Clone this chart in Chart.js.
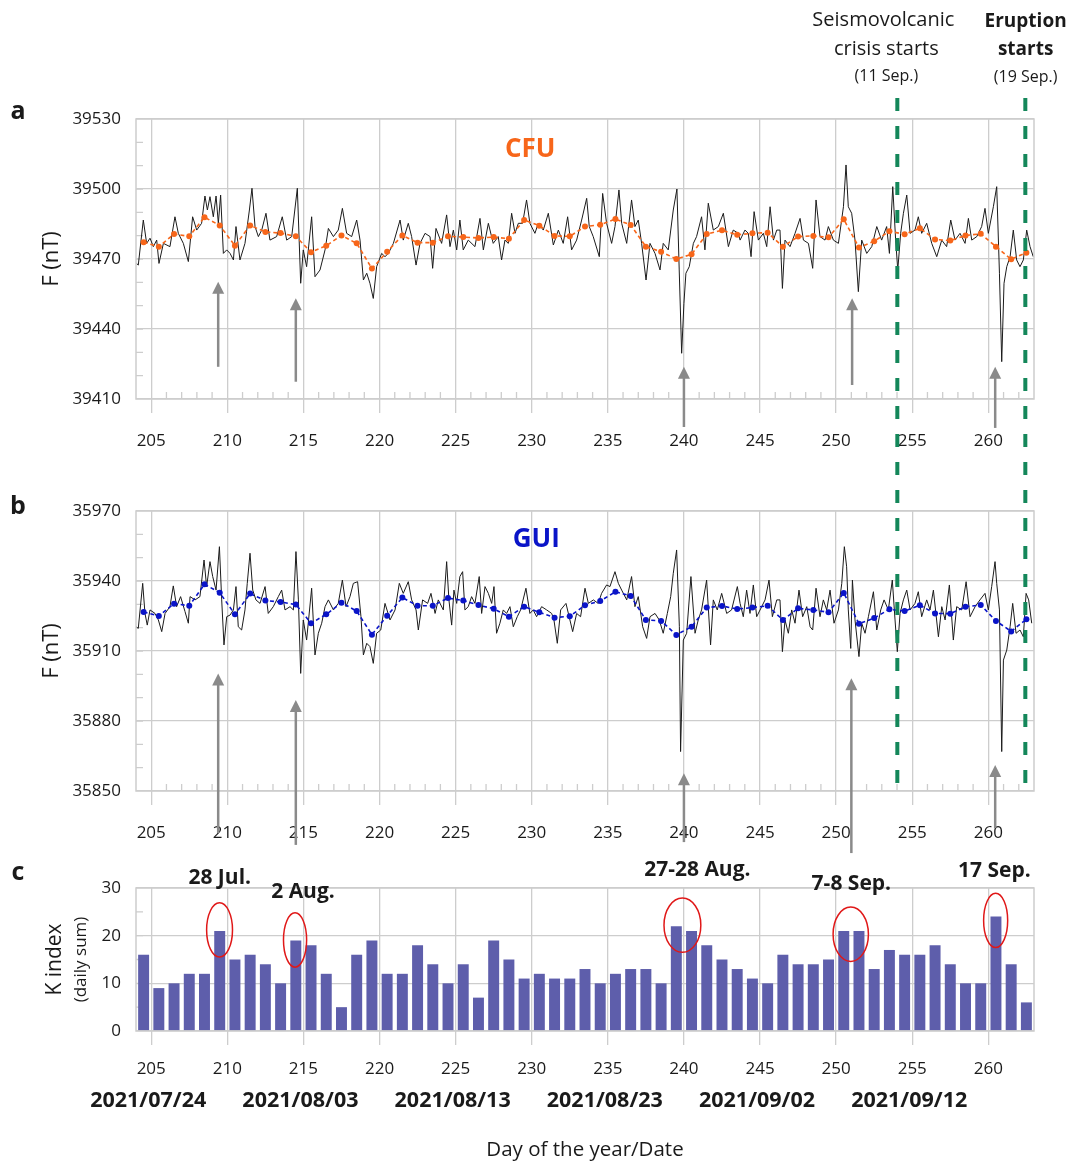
<!DOCTYPE html>
<html>
<head>
<meta charset="utf-8">
<script src="https://cdn.jsdelivr.net/npm/chart.js@4.4.1/dist/chart.umd.min.js"></script>
<style>
  body { margin: 0; background: #fff; }
  .panel { position: absolute; left: 0; }
</style>
</head>
<body>
<canvas id="chartA" class="panel" style="top:0" width="1069" height="455"></canvas>
<canvas id="chartB" class="panel" style="top:455px" width="1069" height="400"></canvas>
<canvas id="chartC" class="panel" style="top:855px" width="1069" height="308"></canvas>
<script>
// ===== DATA =====
const dayOfYear = [204, 205, 206, 207, 208, 209, 210, 211, 212, 213, 214, 215, 216, 217, 218, 219, 220,
  221, 222, 223, 224, 225, 226, 227, 228, 229, 230, 231, 232, 233, 234, 235, 236, 237, 238, 239, 240,
  241, 242, 243, 244, 245, 246, 247, 248, 249, 250, 251, 252, 253, 254, 255, 256, 257, 258, 259, 260,
  261, 262];
const majorDays = [205, 210, 215, 220, 225, 230, 235, 240, 245, 250, 255, 260];
const dateDays = [205, 215, 225, 235, 245, 255];
const dateLabels = ['2021/07/24', '2021/08/03', '2021/08/13', '2021/08/23', '2021/09/02', '2021/09/12'];

const cfuTicks = [39410, 39440, 39470, 39500, 39530];
const guiTicks = [35850, 35880, 35910, 35940, 35970];
const kTicks = [0, 10, 20, 30];

// daily means (nT)
const cfuMean = [39477.2, 39475.3, 39480.7, 39479.7, 39487.9, 39484.4, 39475.7, 39484.4, 39481.6, 39481.1,
  39479.7, 39472.9, 39475.7, 39480.1, 39476.7, 39465.9, 39473.1, 39480.1, 39477.0, 39477.0,
  39479.7, 39479.4, 39479.0, 39479.4, 39478.7, 39486.7, 39484.3, 39479.9, 39479.7, 39483.9,
  39484.7, 39487.1, 39484.6, 39475.3, 39473.1, 39470.0, 39472.0, 39480.7, 39482.3, 39480.4,
  39481.0, 39481.3, 39475.3, 39479.6, 39479.9, 39479.3, 39487.0, 39474.9, 39477.6, 39481.9,
  39480.6, 39483.2, 39478.4, 39477.9, 39480.1, 39480.8, 39475.3, 39469.9, 39472.7];
const guiMean = [35926.7, 35925.0, 35930.3, 35929.4, 35938.6, 35935.0, 35925.7, 35934.6, 35931.6, 35931.0,
  35929.9, 35921.9, 35925.7, 35930.7, 35927.1, 35917.0, 35925.1, 35932.9, 35929.4, 35929.4,
  35932.7, 35931.6, 35929.7, 35928.1, 35924.7, 35929.0, 35926.6, 35924.3, 35924.9, 35929.6,
  35931.4, 35935.4, 35933.6, 35923.3, 35922.9, 35916.9, 35920.4, 35928.6, 35929.3, 35928.0,
  35928.6, 35929.4, 35923.3, 35928.3, 35927.6, 35926.6, 35934.9, 35921.7, 35924.1, 35927.9,
  35927.1, 35929.6, 35926.1, 35926.0, 35929.0, 35929.7, 35922.9, 35918.4, 35923.6];
// K index daily sum
const kIndex = [16, 9, 10, 12, 12, 21, 15, 16, 14, 10, 19, 18, 12, 5, 16, 19, 12, 12, 18, 14, 10, 14, 7, 19, 15, 11,
  12, 11, 11, 13, 10, 12, 13, 13, 10, 22, 21, 18, 15, 13, 11, 10, 16, 14, 14, 15, 21, 21, 13, 17, 16, 16, 18, 14,
  10, 10, 24, 14, 6];

// high-resolution record, CFU
const cfuT = [204.04, 204.15, 204.48, 204.70, 204.92, 205.14, 205.36, 205.51, 205.80, 206.23, 206.56, 206.78,
  207.11, 207.44, 207.72, 207.99, 208.31, 208.53, 208.69, 208.86, 209.08, 209.26, 209.41, 209.56, 209.74,
  209.96, 210.18, 210.40, 210.57, 210.83, 211.16, 211.45, 211.62, 211.82, 212.04, 212.26, 212.54, 212.80,
  213.24, 213.61, 213.90, 214.23, 214.60, 214.82, 214.99, 215.21, 215.54, 215.76, 216.09, 216.42, 216.64,
  216.97, 217.29, 217.56, 217.84, 218.17, 218.50, 218.72, 218.94, 219.16, 219.37, 219.59, 219.81, 220.14,
  220.36, 220.58, 220.91, 221.35, 221.56, 221.89, 222.11, 222.40, 222.66, 222.99, 223.32, 223.49, 223.71,
  224.08, 224.41, 224.63, 224.85, 225.07, 225.28, 225.50, 225.83, 226.27, 226.60, 226.82, 227.15, 227.47,
  227.80, 228.02, 228.24, 228.46, 228.68, 228.90, 229.12, 229.40, 229.66, 229.88, 230.21, 230.43, 230.76,
  231.09, 231.42, 231.75, 232.07, 232.36, 232.62, 232.95, 233.28, 233.61, 233.78, 234.04, 234.44, 234.66,
  234.92, 235.25, 235.47, 235.73, 235.91, 236.24, 236.56, 236.78, 237.00, 237.22, 237.51, 237.77, 238.10,
  238.43, 238.64, 238.97, 239.30, 239.54, 239.69, 239.85, 240.00, 240.13, 240.35, 240.62, 240.83, 241.16,
  241.38, 241.60, 241.93, 242.26, 242.59, 242.92, 243.24, 243.57,
  243.69, 244.01, 244.23, 244.41, 244.61, 244.89, 245.22, 245.44, 245.66, 245.88, 246.10, 246.31, 246.47,
  246.64, 246.97, 247.30, 247.63, 247.85, 248.18, 248.46, 248.68, 248.94, 249.27, 249.49, 249.82, 250.15,
  250.48, 250.65, 250.80, 251.02, 251.24, 251.46, 251.68, 252.01, 252.34, 252.67, 252.99, 253.32, 253.50,
  253.72, 253.91, 254.05, 254.24, 254.42, 254.64, 254.86, 255.18, 255.40, 255.62, 255.95, 256.28, 256.61,
  256.94, 257.26, 257.53, 257.81, 258.14, 258.47, 258.69, 258.91, 259.24, 259.56, 259.78, 260.00, 260.33,
  260.55, 260.73, 260.88, 261.03, 261.21, 261.43, 261.64, 261.86, 262.08, 262.30, 262.52, 262.74, 262.95];
const cfuF = [39468.1, 39467.4, 39486.7, 39476.7, 39478.9, 39475.3, 39478.1, 39468.1, 39476.7, 39475.3, 39488.1, 39481.0,
  39476.7, 39468.9, 39488.1, 39482.4, 39485.3, 39497.0, 39491.0, 39496.7, 39488.1, 39497.0, 39485.3, 39497.4, 39472.4,
  39473.9, 39472.4, 39469.6, 39483.9, 39469.6, 39476.7, 39491.0, 39500.3, 39483.9, 39479.6, 39482.4, 39489.6, 39478.1,
  39479.6, 39488.1, 39478.1, 39479.6, 39500.3, 39459.6, 39473.9, 39466.7, 39488.1, 39462.4, 39465.3, 39473.9, 39483.1,
  39479.6, 39482.4, 39491.7, 39481.0, 39479.6, 39486.7, 39478.1, 39461.0, 39463.9, 39459.6, 39453.1, 39466.7, 39472.4,
  39471.0, 39472.4, 39476.7, 39486.7, 39478.1, 39485.3, 39479.6, 39467.4, 39476.7, 39481.0, 39479.6, 39466.0, 39483.1,
  39476.7, 39488.9, 39475.3, 39482.4, 39473.9, 39486.7, 39473.9, 39478.1, 39475.3, 39487.4, 39473.9, 39485.3, 39476.7,
  39479.6, 39469.6, 39478.1, 39476.7, 39489.6, 39481.0, 39485.3, 39485.3, 39495.3, 39485.3, 39481.0, 39485.3, 39482.4,
  39489.6, 39476.0, 39482.4, 39476.7, 39488.1, 39473.9, 39478.1, 39486.7, 39496.0, 39483.9, 39479.6, 39471.0, 39498.1,
  39485.3, 39476.7, 39483.9, 39499.6, 39485.3, 39476.7, 39495.3, 39483.9, 39486.7, 39476.7, 39461.0, 39476.7, 39472.4,
  39465.3, 39476.7, 39473.9, 39491.0, 39500.0, 39465.3, 39429.6, 39451.0, 39463.9, 39466.7, 39476.7, 39479.6, 39488.1,
  39473.9, 39493.9, 39482.4, 39483.9, 39489.6, 39475.3, 39482.4, 39481.0,
  39478.1, 39482.4, 39481.0, 39471.0, 39490.3, 39478.1, 39481.0, 39475.3, 39492.4, 39478.1, 39482.4, 39482.4, 39457.4,
  39478.1, 39475.3, 39481.0, 39487.4, 39478.1, 39476.7, 39466.0, 39495.3, 39479.6, 39478.1, 39483.9, 39478.1, 39476.7,
  39492.4, 39510.3, 39492.4, 39489.6, 39478.1, 39456.0, 39478.1, 39472.4, 39475.3, 39483.9, 39478.1, 39483.9, 39472.4,
  39501.0, 39478.1, 39465.3, 39481.0, 39489.6, 39497.4, 39481.0, 39482.4, 39488.1, 39481.0, 39485.3, 39476.7, 39471.0,
  39478.1, 39475.3, 39486.7, 39478.1, 39481.0, 39476.7, 39487.4, 39478.1, 39479.6, 39483.9, 39491.7, 39481.0, 39492.4,
  39501.0, 39463.9, 39426.0, 39459.6, 39466.7, 39471.0, 39482.4, 39469.6, 39466.7, 39469.6, 39482.4, 39475.3, 39471.0];

// high-resolution record, GUI
const guiT = [204.00, 204.15, 204.44, 204.59, 204.74, 204.92, 205.25, 205.47, 205.69, 205.91, 206.23, 206.45,
  206.67, 206.93, 207.22, 207.44, 207.55, 207.88, 208.20, 208.47, 208.64, 208.86, 209.04, 209.26, 209.48,
  209.63, 209.78, 209.96, 210.18, 210.40, 210.57, 210.72, 210.94, 211.16, 211.31, 211.49, 211.67, 211.88,
  212.15, 212.48, 212.69, 213.02, 213.35, 213.57, 213.79, 214.12, 214.34, 214.51, 214.67, 214.82, 214.99,
  215.21, 215.54, 215.76, 215.98, 216.20, 216.42, 216.64, 216.97, 217.29, 217.56, 217.80, 218.06, 218.28,
  218.56, 218.78, 218.94, 219.16, 219.37, 219.59, 219.81, 220.08, 220.36, 220.69, 221.02, 221.30, 221.56,
  221.89, 222.11, 222.40, 222.55, 222.83, 223.16, 223.38, 223.65, 223.86,
  224.19, 224.41, 224.56, 224.74, 224.89, 225.07, 225.28, 225.46, 225.61, 225.83, 226.05, 226.27, 226.55,
  226.71, 226.93, 227.15, 227.37, 227.52, 227.69, 227.91, 228.13, 228.35, 228.57, 228.79, 229.05, 229.27,
  229.62, 229.88, 230.10, 230.32, 230.65, 230.98, 231.31, 231.46, 231.68, 231.90, 232.25, 232.51, 232.69,
  232.95, 233.21, 233.50, 233.72, 234.05, 234.37, 234.59, 234.92, 235.14, 235.47, 235.69, 235.91, 236.24,
  236.56, 236.78, 237.00, 237.29, 237.55, 237.77, 238.10, 238.38, 238.64, 238.91, 239.13, 239.30, 239.52,
  239.70, 239.78, 239.96, 240.18, 240.46, 240.73, 240.94, 241.16, 241.49, 241.75, 241.93, 242.19, 242.48,
  242.81, 243.13, 243.51,
  243.69, 243.90, 244.12, 244.34, 244.56, 244.78, 245.11, 245.33, 245.59, 245.81, 246.10, 246.31, 246.47,
  246.64, 246.86, 247.08, 247.30, 247.56, 247.80, 248.07, 248.29, 248.46, 248.68, 248.94, 249.16, 249.38,
  249.60, 249.86, 250.15, 250.37, 250.54, 250.69, 250.80, 250.96, 251.07, 251.24, 251.50, 251.68, 251.90,
  252.12, 252.45, 252.67, 252.93, 253.15, 253.43, 253.69, 253.87, 254.02, 254.20, 254.42, 254.64, 254.86,
  255.18, 255.40, 255.62, 255.95, 256.17, 256.39, 256.72, 256.94, 257.16, 257.44, 257.70, 257.92, 258.25,
  258.54, 258.80, 259.13, 259.45, 259.78, 260.00, 260.22, 260.44, 260.55, 260.73, 260.88, 260.99, 261.21,
  261.43, 261.60, 261.82, 262.08, 262.30, 262.48, 262.65, 262.85];
const guiF = [35920.4, 35919.7, 35939.0, 35926.1, 35921.1, 35927.6, 35926.1, 35923.3, 35918.3, 35926.1, 35929.0, 35937.9,
  35929.0, 35933.3, 35926.9, 35921.9, 35933.3, 35931.9, 35933.3, 35949.0, 35937.6, 35948.3, 35941.9, 35936.1, 35954.7,
  35931.9, 35912.6, 35924.7, 35925.4, 35927.6, 35937.6, 35920.4, 35919.0, 35927.6, 35939.0, 35951.9, 35936.1, 35931.9,
  35930.4, 35937.6, 35926.1, 35929.0, 35933.3, 35936.1, 35927.6, 35929.0, 35927.6, 35952.6, 35931.9, 35900.4, 35923.3,
  35914.7, 35936.9, 35908.3, 35917.6, 35921.9, 35929.0, 35931.9, 35927.6, 35930.4, 35940.4, 35929.0, 35933.3, 35939.0,
  35939.7, 35924.7, 35908.3, 35913.3, 35911.9, 35904.7, 35917.6, 35919.0, 35930.4, 35923.3, 35927.6, 35939.0, 35934.7,
  35939.7, 35931.9, 35927.6, 35919.0, 35931.9, 35930.4, 35934.7, 35926.1, 35931.9,
  35927.6, 35948.3, 35931.9, 35921.1, 35936.1, 35930.4, 35941.9, 35944.0, 35927.6, 35929.0, 35933.3, 35930.4, 35941.9,
  35926.1, 35937.6, 35934.7, 35930.4, 35937.6, 35917.6, 35921.9, 35927.6, 35926.1, 35929.0, 35920.4, 35924.7, 35927.6,
  35936.9, 35926.1, 35927.6, 35924.7, 35929.0, 35927.6, 35926.1, 35923.3, 35913.3, 35927.6, 35930.4, 35923.3, 35918.3,
  35926.1, 35924.7, 35936.9, 35930.4, 35931.9, 35930.4, 35934.7, 35938.3, 35937.6, 35944.0, 35939.0, 35936.1, 35931.9,
  35941.9, 35929.0, 35933.3, 35920.4, 35915.4, 35924.7, 35926.1, 35923.3, 35917.6, 35926.1, 35933.3, 35943.3, 35953.3,
  35920.4, 35866.9, 35914.7, 35917.6, 35941.9, 35917.6, 35923.3, 35927.6, 35940.4, 35912.6, 35931.9, 35927.6, 35934.7,
  35926.1, 35927.6, 35937.6,
  35930.4, 35924.7, 35936.1, 35926.1, 35938.3, 35924.7, 35929.0, 35931.9, 35940.4, 35924.7, 35931.9, 35931.9, 35909.7,
  35923.3, 35917.6, 35927.6, 35921.9, 35936.1, 35924.7, 35929.0, 35920.4, 35919.0, 35936.9, 35924.7, 35931.9, 35927.6,
  35936.1, 35921.9, 35927.6, 35939.0, 35954.7, 35946.1, 35927.6, 35911.1, 35940.4, 35923.3, 35907.6, 35921.9, 35917.6,
  35924.7, 35935.4, 35919.0, 35927.6, 35931.9, 35927.6, 35940.4, 35923.3, 35909.7, 35926.1, 35931.9, 35936.1, 35927.6,
  35930.4, 35935.4, 35924.7, 35931.9, 35927.6, 35936.1, 35916.1, 35929.0, 35923.3, 35938.3, 35914.7, 35929.0, 35927.6,
  35939.7, 35924.7, 35929.0, 35931.9, 35934.7, 35927.6, 35937.6, 35948.3, 35939.0, 35927.6, 35866.9, 35906.1, 35910.4,
  35920.4, 35930.4, 35917.6, 35919.0, 35916.1, 35934.7, 35931.9, 35921.9];

// annotations: [day, top value, bottom value]
const cfuArrows = [[209.4, 39460.3, 39423.8], [214.5, 39453.2, 39417.4], [240.0, 39423.8, 39398.0],
  [251.05, 39453.2, 39416.0], [260.45, 39423.8, 39397.6]];
const guiArrows = [[209.4, 35900.4, 35832.0], [214.5, 35889.0, 35826.9], [240.0, 35857.6, 35828.1],
  [251.0, 35898.3, 35823.4], [260.45, 35861.1, 35834.1]];
const eventDays = [254.02, 262.43];
// highlighted K days: [centre day, centre K, half width (days), half height (K), label, label day, label K]
const kEvents = [
  [209.49, 21.2, 0.85, 5.7, '28 Jul.', 209.5, 32.1],
  [214.45, 19.1, 0.76, 5.7, '2 Aug.', 214.97, 29.2],
  [239.9, 22.2, 1.21, 5.7, '27-28 Aug.', 240.88, 33.8],
  [250.96, 20.3, 1.16, 5.7, '7-8 Sep.', 251.0, 30.8],
  [260.48, 23.2, 0.79, 5.7, '17 Sep.', 260.4, 33.6]
];

// ===== STYLE =====
const GRID = '#cdcdcd';
const TXT = '#1a1a1a';
const FONT = "'Open Sans', sans-serif";
Chart.defaults.font.family = FONT;
Chart.defaults.color = TXT;

function txt(ctx, s, x, y, size, weight, color, rot) {
  ctx.save();
  ctx.font = (weight || 'normal') + ' ' + size + 'px ' + FONT;
  ctx.fillStyle = color || TXT;
  ctx.textAlign = 'center';
  ctx.textBaseline = 'middle';
  ctx.translate(x, y);
  if (rot) ctx.rotate(rot);
  ctx.fillText(s, 0, 0);
  ctx.restore();
}

function arrow(ctx, x, yTop, yBot) {
  ctx.save();
  ctx.strokeStyle = '#8a8a8a';
  ctx.fillStyle = '#8a8a8a';
  ctx.lineWidth = 2.5;
  ctx.beginPath();
  ctx.moveTo(x, yTop + 10);
  ctx.lineTo(x, yBot);
  ctx.stroke();
  ctx.beginPath();
  ctx.moveTo(x, yTop);
  ctx.lineTo(x - 6, yTop + 12);
  ctx.lineTo(x + 6, yTop + 12);
  ctx.closePath();
  ctx.fill();
  ctx.restore();
}

// frame, minor ticks, arrows, labels
const decor = {
  id: 'decor',
  beforeDatasetsDraw(chart, args, o) {
    const { ctx, chartArea: a, scales: { x, y } } = chart;
    ctx.save();
    ctx.strokeStyle = GRID;
    ctx.lineWidth = 1.3;
    ctx.beginPath();
    if (o.minorX) {
      for (let d = 205; d < 263; d++) {
        if (d % 5 === 0) continue;
        const px = x.getPixelForValue(d);
        ctx.moveTo(px, a.bottom);
        ctx.lineTo(px, a.bottom - 7);
      }
    }
    for (let v = y.min + o.minorY; v < y.max; v += o.minorY) {
      const py = y.getPixelForValue(v);
      ctx.moveTo(a.left, py);
      ctx.lineTo(a.left + 7, py);
    }
    ctx.stroke();
    ctx.restore();
  },
  afterDatasetsDraw(chart, args, o) {
    const { ctx, chartArea: a, scales: { x, y } } = chart;
    ctx.save();
    ctx.strokeStyle = GRID;
    ctx.lineWidth = 1.5;
    ctx.strokeRect(a.left, a.top, a.right - a.left, a.bottom - a.top);
    ctx.restore();

    (o.arrows || []).forEach(r => arrow(ctx, x.getPixelForValue(r[0]), y.getPixelForValue(r[1]), y.getPixelForValue(r[2])));

    if (o.events) {
      ctx.save();
      ctx.strokeStyle = '#14875a';
      ctx.lineWidth = 4;
      ctx.setLineDash([13, 15]);
      ctx.lineDashOffset = o.events.dashOffset;
      eventDays.forEach(d => {
        const px = x.getPixelForValue(d);
        ctx.beginPath();
        ctx.moveTo(px, o.events.from === 'top' ? 0 : y.getPixelForValue(o.events.from));
        ctx.lineTo(px, o.events.to === 'bottom' ? chart.height : y.getPixelForValue(o.events.to));
        ctx.stroke();
      });
      ctx.restore();
    }

    if (o.station) {
      txt(ctx, o.station.text, x.getPixelForValue(o.station.day), y.getPixelForValue(o.station.val), 26, 'bold', o.station.color);
    }

    (o.ellipses || []).forEach(e => {
      const cx = x.getPixelForValue(e[0]);
      const cy = y.getPixelForValue(e[1]);
      const rx = x.getPixelForValue(e[0] + e[2]) - cx;
      const ry = y.getPixelForValue(e[1] - e[3]) - cy;
      ctx.save();
      ctx.strokeStyle = '#e01818';
      ctx.lineWidth = 1.5;
      ctx.beginPath();
      ctx.ellipse(cx, cy, rx, ry, 0, 0, Math.PI * 2);
      ctx.stroke();
      ctx.restore();
      txt(ctx, e[4], x.getPixelForValue(e[5]), y.getPixelForValue(e[6]), 21, 'bold');
    });

    // panel letter and y title
    txt(ctx, o.letter, 18, o.letterY, 25, 'bold');
    const midY = (a.top + a.bottom) / 2;
    if (o.yTitle2) {
      txt(ctx, o.yTitle, 55, midY, 21, 'normal', TXT, -Math.PI / 2);
      txt(ctx, o.yTitle2, 81, midY, 17, 'normal', TXT, -Math.PI / 2);
    } else {
      txt(ctx, o.yTitle, 52, midY, 22, 'normal', TXT, -Math.PI / 2);
    }

    if (o.top) {
      const d1 = x.getPixelForValue(253.3);
      const d2 = x.getPixelForValue(262.45);
      txt(ctx, 'Seismovolcanic', d1 - 3, a.top - 99, 20);
      txt(ctx, 'crisis starts', d1, a.top - 70, 20);
      txt(ctx, '(11 Sep.)', d1, a.top - 43, 16);
      txt(ctx, 'Eruption', d2, a.top - 97, 19, 'bold');
      txt(ctx, 'starts', d2, a.top - 69, 19, 'bold');
      txt(ctx, '(19 Sep.)', d2, a.top - 42, 16);
    }

    if (o.dates) {
      dateDays.forEach((d, i) => txt(ctx, dateLabels[i], x.getPixelForValue(d) - 3, a.bottom + 70, 21.5, 'bold'));
      txt(ctx, 'Day of the year/Date', (a.left + a.right) / 2, a.bottom + 119, 20.5);
    }
  }
};

function xScale(pad, h) {
  return {
    type: 'linear',
    min: 204,
    max: 263,
    offset: false,
    afterBuildTicks: s => { s.ticks = majorDays.map(v => ({ value: v })); },
    afterFit: s => { s.height = h; },
    grid: { color: GRID, lineWidth: 1.3, tickLength: 14, tickColor: GRID, offset: false },
    border: { display: false },
    ticks: { autoSkip: false, maxRotation: 0, padding: pad, font: { size: 17 }, color: TXT, callback: v => String(v) }
  };
}

function yScale(ticks) {
  return {
    min: ticks[0],
    max: ticks[ticks.length - 1],
    afterBuildTicks: s => { s.ticks = ticks.map(v => ({ value: v })); },
    afterFit: s => { s.width = 136; },
    grid: { color: GRID, lineWidth: 1.3, drawTicks: false },
    border: { display: false },
    ticks: { padding: 15, font: { size: 17 }, color: TXT, callback: v => String(v) }
  };
}

function meanSet(vals, color) {
  return {
    data: dayOfYear.map((d, i) => ({ x: d + 0.5, y: vals[i] })),
    borderColor: color,
    backgroundColor: color,
    borderWidth: 1.6,
    borderDash: [4, 3],
    pointRadius: 3,
    pointBorderWidth: 0,
    pointBackgroundColor: color,
    order: 0
  };
}

function rawSet(t, f) {
  return {
    data: t.map((d, i) => ({ x: d, y: f[i] })),
    borderColor: '#1b1b1b',
    borderWidth: 1,
    pointRadius: 0,
    order: 1
  };
}

const common = {
  responsive: false,
  animation: false,
  events: [],
  plugins: { legend: { display: false }, tooltip: { enabled: false } }
};

// ===== PANEL a : CFU =====
new Chart(document.getElementById('chartA'), {
  type: 'line',
  data: { datasets: [meanSet(cfuMean, '#f7661a'), rawSet(cfuT, cfuF)] },
  options: {
    ...common,
    layout: { padding: { top: 119, right: 35, left: 0, bottom: 0 } },
    scales: { x: xScale(18, 56), y: yScale(cfuTicks) },
    plugins: {
      ...common.plugins,
      decor: {
        minorX: true, minorY: 10, arrows: cfuArrows, letter: 'a', letterY: 112, yTitle: 'F (nT)',
        events: { from: 39539, to: 'bottom', dashOffset: 0 },
        station: { text: 'CFU', day: 229.9, val: 39516.7, color: '#f7661a' },
        top: true
      }
    }
  },
  plugins: [decor]
});

// ===== PANEL b : GUI =====
new Chart(document.getElementById('chartB'), {
  type: 'line',
  data: { datasets: [meanSet(guiMean, '#0a14c8'), rawSet(guiT, guiF)] },
  options: {
    ...common,
    layout: { padding: { top: 56, right: 35, left: 0, bottom: 0 } },
    scales: { x: xScale(18, 64), y: yScale(guiTicks) },
    plugins: {
      ...common.plugins,
      decor: {
        minorX: true, minorY: 10, arrows: guiArrows, letter: 'b', letterY: 52, yTitle: 'F (nT)',
        events: { from: 'top', to: 35852, dashOffset: 21 },
        station: { text: 'GUI', day: 230.3, val: 35957.6, color: '#0a14c8' }
      }
    }
  },
  plugins: [decor]
});

// ===== PANEL c : K index =====
new Chart(document.getElementById('chartC'), {
  type: 'bar',
  data: {
    datasets: [{
      data: dayOfYear.map((d, i) => ({ x: d + 0.5, y: kIndex[i] })),
      backgroundColor: '#5e5eab',
      borderWidth: 0,
      categoryPercentage: 1,
      barPercentage: 0.72
    }]
  },
  options: {
    ...common,
    layout: { padding: { top: 33, right: 35, left: 0, bottom: 0 } },
    scales: { x: xScale(14, 132), y: yScale(kTicks) },
    plugins: {
      ...common.plugins,
      decor: {
        minorX: false, minorY: 5, letter: 'c', letterY: 18, yTitle: 'K index', yTitle2: '(daily sum)',
        ellipses: kEvents, dates: true
      }
    }
  },
  plugins: [decor]
});
</script>
</body>
</html>
